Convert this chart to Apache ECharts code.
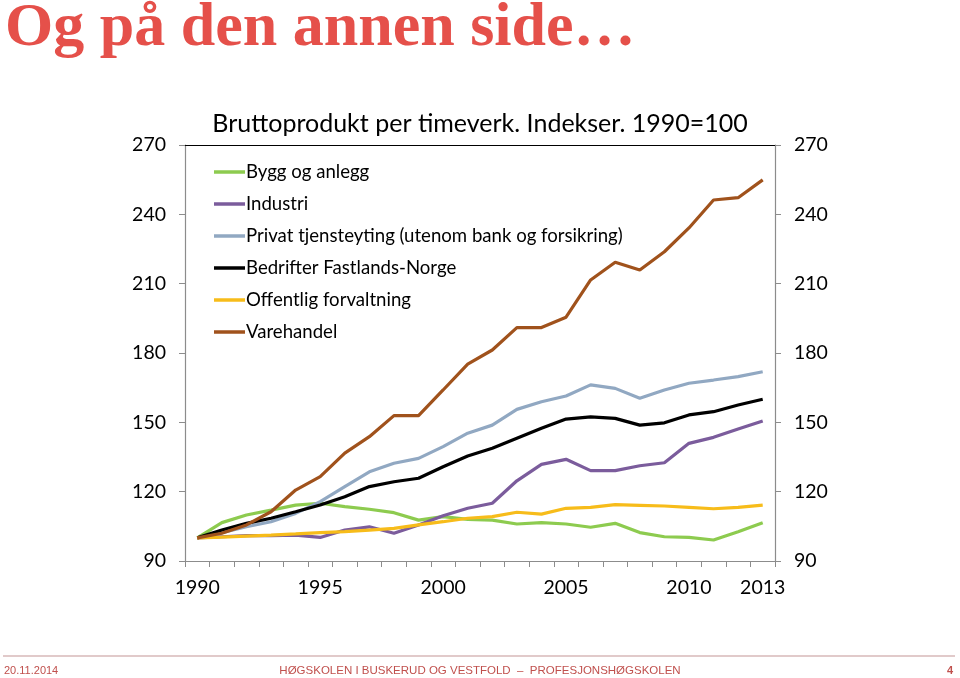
<!DOCTYPE html>
<html>
<head>
<meta charset="utf-8">
<script src="https://cdn.jsdelivr.net/npm/echarts@6/dist/echarts.min.js"></script>
<style>
html,body{margin:0;padding:0;background:#fff;}
#chart{width:960px;height:678px;}
</style>
</head>
<body>
<div id="chart"></div>
<script>
const years = ['1990','1991','1992','1993','1994','1995','1996','1997','1998','1999','2000','2001','2002','2003','2004','2005','2006','2007','2008','2009','2010','2011','2012','2013'];
const shownYears = ['1990','1995','2000','2005','2010','2013'];
const yTicks = [90, 120, 150, 180, 210, 240, 270];

const byggOgAnlegg = [100,106.6,109.9,112,114.2,115,113.5,112.4,110.9,107.7,109.2,108,107.7,106,106.6,106,104.6,106.3,102.3,100.5,100.2,99.1,102.7,106.6];
const industri = [100,100.5,101,101,101.2,100.2,103.4,104.8,102,105.6,109.6,112.8,115,124.7,131.8,134,129.1,129.1,131.2,132.5,140.9,143.5,147.1,150.6];
const privatTjenesteyting = [100,102.3,104.8,107,110.6,115.7,122.2,128.6,132.3,134.4,139.5,145.3,148.8,155.6,158.9,161.4,166.2,164.7,160.4,164,166.9,168.3,169.8,171.9];
const bedrifterFastland = [100,103.4,106.3,108.5,111.3,114.2,117.8,122.2,124.3,125.8,130.8,135.4,138.8,143.1,147.4,151.4,152.4,151.7,148.8,149.8,153.2,154.6,157.5,160];
const offentligForvaltning = [100,100.3,100.8,101.2,101.7,102.3,102.7,103.4,104.1,105.6,107,108.5,109.2,111.1,110.3,112.8,113.2,114.4,114.1,113.8,113.2,112.6,113.2,114.2];
const varehandel = [100,102,105.6,111.3,120.7,126.5,136.7,143.8,152.9,152.9,164,175.2,181.3,191,191,195.5,211.6,219.3,215.9,223.8,234.1,246.2,247.2,254.9];

const seriesNames = ['Bygg og anlegg','Industri','Privat tjensteyting (utenom bank og forsikring)','Bedrifter Fastlands-Norge','Offentlig forvaltning','Varehandel'];
const seriesData = [byggOgAnlegg, industri, privatTjenesteyting, bedrifterFastland, offentligForvaltning, varehandel];
const seriesColors = ['#8DCB4F','#7B5C9C','#91A8C2','#000000','#F7BC1A','#A0521C'];

const chart = echarts.init(document.getElementById('chart'));
const fontChart = 'Lato, "Open Sans", sans-serif';

const yAxisCommon = {
  type: 'value', min: 90, max: 270, interval: 30,
  axisLine: {show: true, lineStyle: {color: '#8c8c8c', width: 1.2}},
  axisTick: {show: true, length: 6, lineStyle: {color: '#8c8c8c'}},
  splitLine: {show: false},
  axisLabel: {color: '#000', fontSize: 19.5, fontFamily: fontChart, margin: 19}
};

chart.setOption({
  backgroundColor: '#fff',
  animation: false,
  title: [
    {text: 'Og på den annen side…', left: 0, top: -7,
     textStyle: {fontFamily: '"Liberation Serif", serif', fontWeight: 'bold', fontSize: 62, color: '#E5504A'}},
    {text: 'Bruttoprodukt per timeverk. Indekser. 1990=100', left: 'center', top: 106,
     textStyle: {fontFamily: fontChart, fontWeight: 'normal', fontSize: 25, color: '#000'}}
  ],
  legend: {
    orient: 'vertical', left: 209, top: 157,
    icon: 'rect', itemWidth: 31, itemHeight: 3.5, itemGap: 12,
    textStyle: {fontFamily: fontChart, fontSize: 18.6, color: '#000', lineHeight: 20, padding: [0,0,0,-4]},
    data: seriesNames
  },
  grid: {left: 185, right: 185, top: 145, bottom: 117},
  xAxis: [
    {type: 'category', data: years, boundaryGap: true, position: 'bottom',
     axisLine: {show: true, lineStyle: {color: '#8c8c8c', width: 1.2}},
     axisTick: {show: true, length: 6, interval: 0, lineStyle: {color: '#8c8c8c'}},
     axisLabel: {color: '#000', fontSize: 19.5, fontFamily: fontChart, margin: 17,
       interval: function (i, v) { return shownYears.indexOf(v) >= 0; }},
     splitLine: {show: false}},
    {type: 'category', data: years, boundaryGap: true, position: 'top',
     axisLine: {show: true, lineStyle: {color: '#000', width: 1}},
     axisTick: {show: false}, axisLabel: {show: false}, splitLine: {show: false}}
  ],
  yAxis: [
    Object.assign({}, yAxisCommon, {position: 'left'}),
    Object.assign({}, yAxisCommon, {position: 'right'})
  ],
  series: seriesNames.map(function (n, i) {
    return {
      name: n, type: 'line', data: seriesData[i], xAxisIndex: 0, yAxisIndex: 0,
      showSymbol: false, symbol: 'none', smooth: false,
      lineStyle: {color: seriesColors[i], width: 3.2},
      itemStyle: {color: seriesColors[i]}
    };
  }),
  graphic: [
    {type: 'line', shape: {x1: 3, y1: 656, x2: 955, y2: 656},
     style: {stroke: '#D7B9B9', lineWidth: 1.5}},
    {type: 'text', left: 4, top: 665,
     style: {text: '20.11.2014', fill: '#C0504D', font: '11px "Liberation Sans", Arial, sans-serif'}},
    {type: 'text', left: 'center', top: 665,
     style: {text: 'HØGSKOLEN I BUSKERUD OG VESTFOLD  –  PROFESJONSHØGSKOLEN', fill: '#C0504D', font: '11.5px "Liberation Sans", Arial, sans-serif'}},
    {type: 'text', right: 7, top: 665,
     style: {text: '4', fill: '#C0504D', font: 'bold 11px "Liberation Sans", Arial, sans-serif'}}
  ]
});
</script>
</body>
</html>
